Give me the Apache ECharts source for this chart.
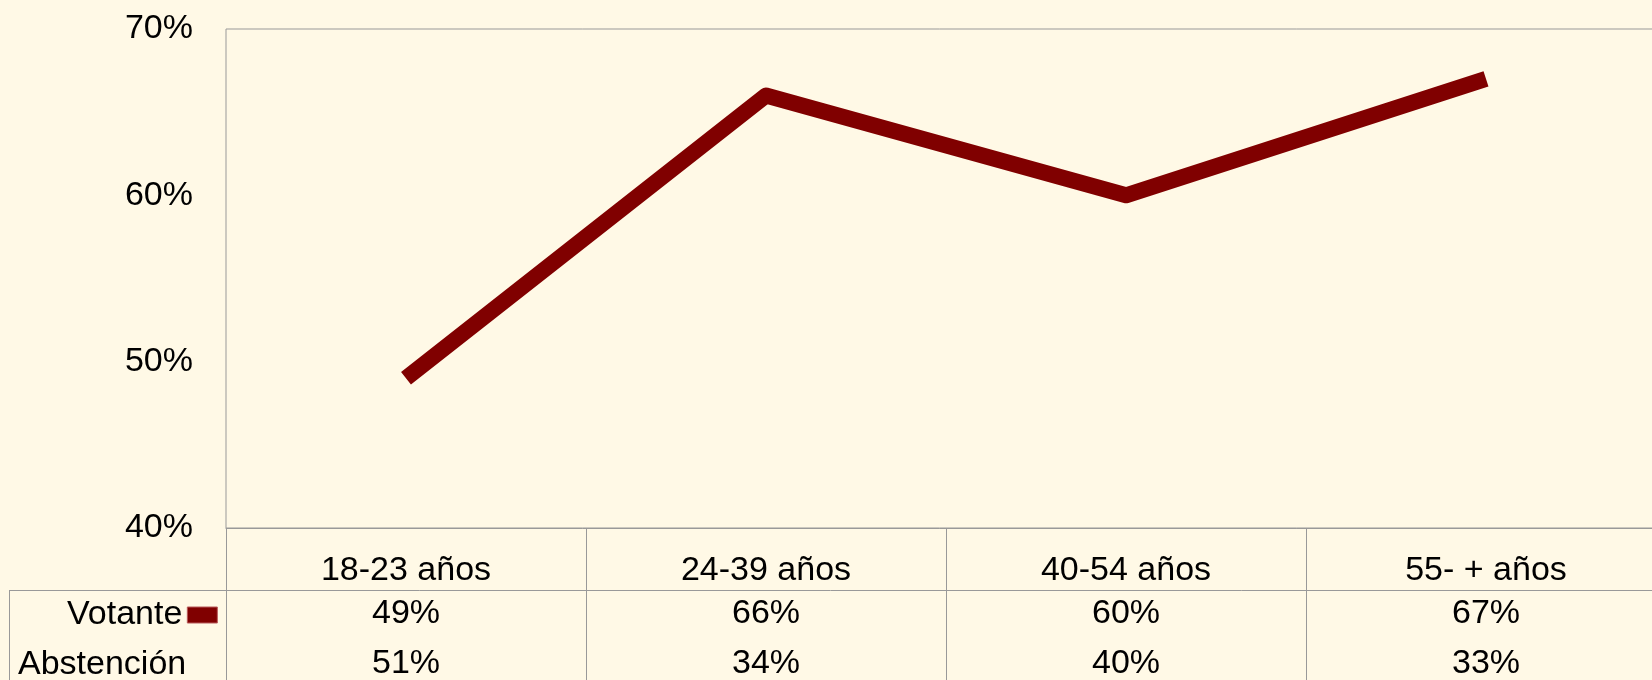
<!DOCTYPE html>
<html>
<head>
<meta charset="utf-8">
<script src="https://cdn.jsdelivr.net/npm/echarts@6/dist/echarts.min.js"></script>
<style>
  html, body { margin: 0; padding: 0; background: #FFF9E6; }
  #chart { width: 1652px; height: 680px; }
</style>
</head>
<body>
<div id="chart"></div>
<script>
// age groups and shares (%)
const categories = ['18-23 años', '24-39 años', '40-54 años', '55- + años'];
const votante = [49, 66, 60, 67];
const abstencion = [51, 34, 40, 33];
const yTicks = { min: 40, max: 70, interval: 10 };

const FONT = "'Liberation Sans', Arial, sans-serif";
const GRID_LINE = '#999';
const LINE_COLOR = '#800000';
const FS = 34;

const chart = echarts.init(document.getElementById('chart'));

const labelBase = {
    color: '#000', fontSize: FS, fontFamily: FONT,
    verticalAlign: 'middle', padding: [9, 0, 0, 0]
};

// one x axis per table row, all on the same grid
const tableAxis = (values, margin, extra) => Object.assign({
    type: 'category',
    data: categories,
    position: 'bottom',
    boundaryGap: true,
    axisLine: { show: false },
    axisTick: { show: false },
    axisLabel: Object.assign({}, labelBase, {
        margin: margin,
        interval: 0,
        formatter: values ? (v, i) => values[i] + '%' : '{value}'
    })
}, extra || {});

const option = {
    backgroundColor: '#FFF9E6',
    animation: false,
    textStyle: { fontFamily: FONT },
    grid: {
        left: 226, right: -14, top: 29, bottom: 152,
        outerBoundsMode: 'none',
        show: true, borderColor: GRID_LINE, borderWidth: 1,
        backgroundColor: 'transparent'
    },
    legend: {
        data: ['Votante'],
        left: 67,
        top: 598,
        align: 'right',
        padding: 0,
        icon: 'rect',
        itemWidth: 30,
        itemHeight: 16,
        itemStyle: { borderColor: '#b85a5a', borderWidth: 1 },
        textStyle: { color: '#000', fontSize: FS, fontFamily: FONT },
        selectedMode: false
    },
    xAxis: [
        tableAxis(null, 43, {
            axisLine: { show: true, lineStyle: { color: GRID_LINE, width: 1 } },
            axisTick: { show: true, length: 160, lineStyle: { color: GRID_LINE, width: 1 } }
        }),
        tableAxis(votante, 86),
        tableAxis(abstencion, 136)
    ],
    yAxis: {
        type: 'value',
        min: yTicks.min,
        max: yTicks.max,
        interval: yTicks.interval,
        axisLine: { show: false },
        axisTick: { show: false },
        splitLine: { show: false },
        axisLabel: Object.assign({}, labelBase, {
            margin: 33, padding: [13, 0, 0, 0], formatter: '{value}%'
        })
    },
    graphic: [
        {
            type: 'line',
            shape: { x1: 9, y1: 590.5, x2: 1652, y2: 590.5 },
            style: { stroke: GRID_LINE, lineWidth: 1 }
        },
        {
            type: 'line',
            shape: { x1: 9.5, y1: 590, x2: 9.5, y2: 680 },
            style: { stroke: GRID_LINE, lineWidth: 1 }
        },
        {
            type: 'text',
            left: 18,
            top: 648,
            style: { text: 'Abstención', fill: '#000', fontSize: FS, fontFamily: FONT }
        }
    ],
    series: [
        {
            name: 'Votante',
            type: 'line',
            data: votante,
            symbol: 'none',
            color: LINE_COLOR,
            lineStyle: { width: 16, color: LINE_COLOR, cap: 'butt', join: 'round' }
        }
    ]
};

chart.setOption(option);
</script>
</body>
</html>
